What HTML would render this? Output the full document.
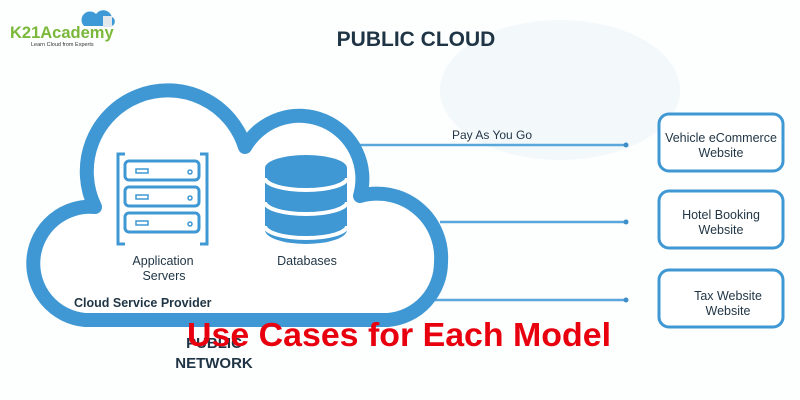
<!DOCTYPE html>
<html><head><style>
html,body{margin:0;padding:0;background:#fff;}
svg{display:block;font-family:"Liberation Sans",sans-serif;}
</style></head><body>
<svg width="800" height="400" viewBox="0 0 800 400" xmlns="http://www.w3.org/2000/svg">
<rect width="800" height="400" fill="#fdfefe"/>
<ellipse cx="560" cy="90" rx="120" ry="70" fill="#f3f8fb"/>
<!-- logo -->
<path d="M84,26 a8,8 0 0 1 12,-12 a9,9 0 0 1 16,3 a5,5 0 0 1 0,9 h-28 z" fill="#3d9ad6"/>
<rect x="103" y="16" width="9" height="11" fill="#e3e8ec"/>
<text x="10" y="38" font-size="16.5" font-weight="bold" fill="#7ab83a">K21Academy</text>
<text x="31" y="46" font-size="5.5" fill="#333">Learn Cloud from Experts</text>
<text x="416" y="46" font-size="21" font-weight="bold" fill="#1f3444" text-anchor="middle">PUBLIC CLOUD</text>
<!-- connectors -->
<g stroke="#5aa7dc" stroke-width="2.5">
<line x1="355" y1="145" x2="626" y2="145"/>
<line x1="440" y1="222" x2="626" y2="222"/>
<line x1="430" y1="300" x2="626" y2="300"/>
</g>
<g fill="#3e8fc8"><circle cx="626" cy="145" r="2.5"/><circle cx="626" cy="222" r="2.5"/><circle cx="626" cy="300" r="2.5"/></g>
<text x="452" y="139" font-size="12" fill="#1f3444">Pay As You Go</text>
<!-- cloud -->
<path d="M85,320 A56,56 0 0 1 95,207 A81,81 0 1 1 245,147 A63,63 0 0 1 360,196 A64,64 0 0 1 441,262 A58,58 0 0 1 388,320 Z" fill="#fff" stroke="#3f98d3" stroke-width="14" stroke-linejoin="round"/>
<!-- servers icon -->
<g fill="none" stroke="#3f98d3" stroke-width="3">
<path d="M125,154 h-7 v90 h7 M200,154 h7 v90 h-7"/>
<rect x="125" y="161" width="74" height="19" rx="4"/>
<rect x="125" y="187" width="74" height="19" rx="4"/>
<rect x="125" y="213" width="74" height="19" rx="4"/>
</g>
<g fill="none" stroke="#3f98d3" stroke-width="1.5">
<rect x="136" y="169" width="12" height="4"/><rect x="136" y="195" width="12" height="4"/><rect x="136" y="221" width="12" height="4"/>
<circle cx="190" cy="172" r="2"/><circle cx="190" cy="198" r="2"/><circle cx="190" cy="224" r="2"/>
</g>
<!-- database -->
<g fill="#3f98d3">
<path d="M265,168 a41,13 0 0 1 82,0 v62 a41,14 0 0 1 -82,0 z"/>
</g>
<g fill="none" stroke="#fff" stroke-width="4">
<path d="M265,178 a41,12 0 0 0 82,0"/>
<path d="M265,202 a41,12 0 0 0 82,0"/>
<path d="M265,226 a41,12 0 0 0 82,0"/>
</g>
<g font-size="12.5" fill="#1f3444" text-anchor="middle">
<text x="163" y="265">Application</text>
<text x="164" y="280">Servers</text>
<text x="307" y="265">Databases</text>
</g>
<text x="74" y="307" font-size="12.5" font-weight="bold" fill="#1f3444">Cloud Service Provider</text>
<!-- boxes -->
<g fill="#fff" stroke="#3f98d3" stroke-width="3">
<rect x="659" y="114" width="124" height="57" rx="10"/>
<rect x="659" y="191" width="124" height="57" rx="10"/>
<rect x="659" y="270" width="124" height="57" rx="10"/>
</g>
<g font-size="12.5" fill="#1f3444" text-anchor="middle">
<text x="721" y="142">Vehicle eCommerce</text>
<text x="721" y="157">Website</text>
<text x="721" y="219">Hotel Booking</text>
<text x="721" y="234">Website</text>
<text x="728" y="300">Tax Website</text>
<text x="728" y="315">Website</text>
</g>
<text x="214" y="348" font-size="15" font-weight="bold" fill="#1f3444" text-anchor="middle">PUBLIC</text>
<text x="214" y="368" font-size="15" font-weight="bold" fill="#1f3444" text-anchor="middle">NETWORK</text>
<text x="399" y="346" font-size="33" font-weight="bold" fill="#e8000f" text-anchor="middle" textLength="424" lengthAdjust="spacingAndGlyphs">Use Cases for Each Model</text>
</svg>
</body></html>
